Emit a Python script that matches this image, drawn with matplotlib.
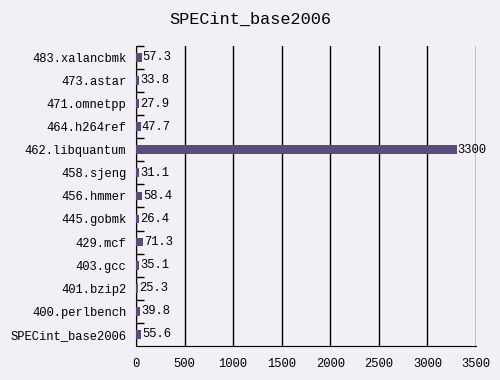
import matplotlib
matplotlib.use('Agg')
import matplotlib.pyplot as plt
import numpy as np

# benchmarks, top to bottom as shown in the chart
benchmarks = ['483.xalancbmk', '473.astar', '471.omnetpp', '464.h264ref',
              '462.libquantum', '458.sjeng', '456.hmmer', '445.gobmk',
              '429.mcf', '403.gcc', '401.bzip2', '400.perlbench',
              'SPECint_base2006']
scores = [57.3, 33.8, 27.9, 47.7, 3300, 31.1, 58.4, 26.4, 71.3, 35.1,
          25.3, 39.8, 55.6]
score_labels = ['57.3', '33.8', '27.9', '47.7', '3300', '31.1', '58.4',
                '26.4', '71.3', '35.1', '25.3', '39.8', '55.6']
x_ticks = [0, 500, 1000, 1500, 2000, 2500, 3000, 3500]

bg = '#f2f0f4'
bar_color = '#5c4a7c'
font = ['Liberation Mono', 'DejaVu Sans Mono']
fs = 8.7

fig = plt.figure(figsize=(5, 3.8), dpi=100, facecolor=bg)
ax = fig.add_axes([0.272, 0.0895, 0.68, 0.79], facecolor=bg)

y = np.arange(len(benchmarks))[::-1]
ax.barh(y, scores, height=0.38, color=bar_color, zorder=3)

for yi, v, lab in zip(y, scores, score_labels):
    ax.text(v + 12, yi, lab, va='center', ha='left', fontsize=fs,
            family=font, zorder=4)

ax.set_xlim(0, 3500)
ax.set_ylim(-0.5, len(benchmarks) - 0.5)
ax.set_xticks(x_ticks)
ax.set_xticklabels([str(t) for t in x_ticks], family=font, fontsize=fs)
ax.set_yticks(y)
ax.set_yticklabels(benchmarks, family=font, fontsize=fs)
ax.set_yticks(np.arange(len(benchmarks)) + 0.5, minor=True)
ax.tick_params(axis='y', which='major', length=0, pad=7)
ax.tick_params(axis='y', which='minor', length=6, direction='in', width=1)
ax.tick_params(axis='x', length=0, pad=9)

ax.grid(axis='x', color='black', linewidth=1, zorder=1)
ax.spines['top'].set_visible(False)
ax.spines['right'].set_visible(False)
ax.spines['left'].set_color('black')
ax.spines['bottom'].set_color('black')

fig.text(0.5, 0.948, 'SPECint_base2006', ha='center', va='center',
         fontsize=12.2, family=font)

plt.savefig('out.png', dpi=100, facecolor=bg)
plt.close()
